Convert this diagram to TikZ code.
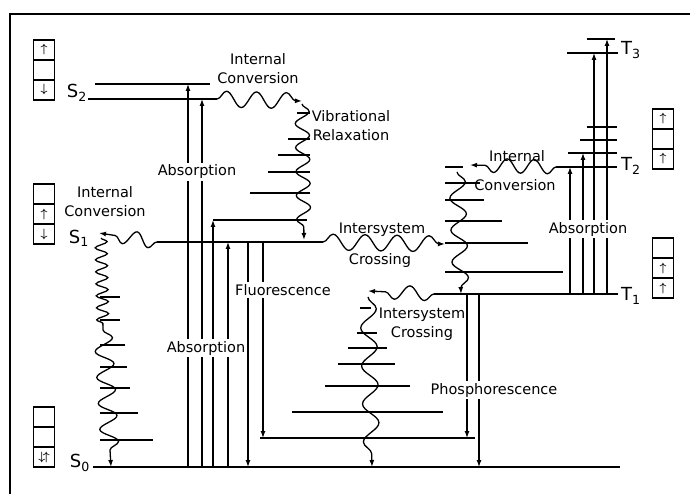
\documentclass[tikz,border=0pt]{standalone}
\usepackage{fontspec}
\setmainfont{DejaVu Sans}
\usetikzlibrary{arrows.meta, decorations.pathmorphing, matrix}

\tikzset{
  level/.style={line width=1.5pt},
  tip/.style={-{Latex[length=7pt,width=5pt]}},
  arrow/.style={line width=1.2pt, tip},
  wavy/.style 2 args={line width=1.3pt, decorate,
    decoration={snake, segment length=#1, amplitude=#2, post length=5pt}},
  lbl/.style={inner sep=1pt, align=center, font=\fontsize{14.5}{19}\selectfont},
  gap/.style={lbl, fill=white, inner sep=2pt},
  state/.style={inner sep=1pt, font=\fontsize{18}{20}\selectfont},
  spinbox/.style={matrix of math nodes, nodes in empty cells, row sep=-1.2pt,
    nodes={draw, line width=1.2pt, minimum width=21pt, minimum height=20pt,
      inner sep=0pt, font=\large\boldmath}}
}

\begin{document}
\begin{tikzpicture}[x=1pt, y=-1pt]
  \useasboundingbox (0,0) rectangle (690,494);
  \draw[line width=1.5pt] (10,500) |- (700,14);

  % energy levels
  \coordinate (S2a) at (0,84);
  \coordinate (S2) at (0,99);
  \coordinate (S1v) at (0,220);
  \coordinate (S1) at (0,242);
  \coordinate (S0v) at (0,438);
  \coordinate (S0) at (0,467);
  \coordinate (T3a) at (0,39);
  \coordinate (T3) at (0,53);
  \coordinate (T2v) at (0,153);
  \coordinate (T2) at (0,167);
  \coordinate (T1) at (0,294);

  \draw[level] (95,0 |- S2a) -- (210,0 |- S2a);
  \draw[level] (88,0 |- S2) -- (217,0 |- S2);
  \draw[level] (213,0 |- S1v) -- (307,0 |- S1v);
  \draw[level] (157,0 |- S1) -- (323,0 |- S1);
  \draw[level] (260,0 |- S0v) -- (475,0 |- S0v);
  \draw[level] (93,0 |- S0) -- (620,0 |- S0);
  \draw[level] (587,0 |- T3a) -- (615,0 |- T3a);
  \draw[level] (567,0 |- T3) -- (618,0 |- T3);
  \draw[level] (587,127) -- (617,127);
  \draw[level] (580,140) -- (617,140);
  \draw[level] (568,0 |- T2v) -- (617,0 |- T2v);
  \draw[level] (556,0 |- T2) -- (617,0 |- T2);
  \draw[level] (434,0 |- T1) -- (618,0 |- T1);

  % vibrational levels
  \foreach \y/\xa in {113/297, 139/288, 155/278, 172/268, 193/250}
    \draw[level] (\xa,\y) -- (310,\y);
  \foreach \y/\xb in {167/463, 183/480, 200/484, 221/502, 243/528, 272/563}
    \draw[level] (445,\y) -- (\xb,\y);
  \foreach \y/\xb in {297/120, 320/120, 345/125, 367/127, 388/130, 413/138, 440/153}
    \draw[level] (100,\y) -- (\xb,\y);
  \foreach \y/\xa/\xb in {308/360/371, 333/357/377, 348/348/387, 364/338/395,
      386/325/410, 412/292/443}
    \draw[level] (\xa,\y) -- (\xb,\y);

  % radiative transitions
  \draw[arrow] (188,0 |- S0) -- (188,0 |- S2a);
  \draw[arrow] (202,0 |- S0) -- (202,0 |- S2);
  \draw[arrow] (213,0 |- S0) -- (213,0 |- S1v);
  \draw[arrow] (228,0 |- S0) -- (228,0 |- S1);
  \draw[arrow] (248,0 |- S1) -- (248,0 |- S0);
  \draw[arrow] (263,0 |- S1) -- (263,0 |- S0v);
  \draw[arrow] (467,0 |- T1) -- (467,0 |- S0v);
  \draw[arrow] (479,0 |- T1) -- (479,0 |- S0);
  \draw[arrow] (570,0 |- T1) -- (570,0 |- T2);
  \draw[arrow] (583,0 |- T1) -- (583,0 |- T2v);
  \draw[arrow] (594,0 |- T1) -- (594,0 |- T3);
  \draw[arrow] (607,0 |- T1) -- (607,0 |- T3a);

  % non-radiative transitions
  \draw[wavy={30}{8}, tip] (217,0 |- S2) -- (302,101);
  \draw[wavy={24}{7}, tip] (302,104) -- (304,240);
  \draw[wavy={26}{7}, tip] (157,0 |- S1) -- (99,233);
  \draw[wavy={12}{6}] (101,238) -- (103,330);
  \draw[wavy={26}{9}, tip] (103,330) -- (111,0 |- S0);
  \draw[wavy={32}{8}, tip] (323,0 |- S1) -- (445,244);
  \draw[wavy={27}{7}, tip] (556,0 |- T2) -- (470,165);
  \draw[wavy={32}{8}, tip] (457,172) -- (461,0 |- T1);
  \draw[wavy={30}{7}, tip] (434,0 |- T1) -- (368,291);
  \draw[wavy={38}{8}, tip] (368,297) -- (372,0 |- S0);

  % labels
  \node[gap] (absS2) at (197,172) {Absorption};
  \node[gap, inner xsep=0.5pt] (absS1) at (206,348) {Absorption};
  \node[gap] (absT) at (588,229) {Absorption};
  \node[gap] (fluo) at (283,290) {Fluorescence};
  \node[gap] (phos) at (494,390) {Phosphorescence};
  \node[lbl] (icS2) at (258,69) {Internal\\Conversion};
  \node[lbl] (icS1) at (105,202) {Internal\\Conversion};
  \node[lbl] (vr) at (351,126) {Vibrational\\Relaxation};
  \node[lbl] (iscA) at (382,230) {Intersystem};
  \node[lbl] (iscB) at (380,260) {Crossing};
  \node[lbl] (iscT1) at (422,324) {Intersystem\\Crossing};
  \node[lbl] (icT2a) at (517,156) {Internal};
  \node[lbl] (icT2b) at (515,185) {Conversion};

  \node[state, anchor=east] (lS2) at (88,93) {S\textsubscript{2}};
  \node[state, anchor=east] (lS1) at (90,238) {S\textsubscript{1}};
  \node[state, anchor=east] (lS0) at (91,463) {S\textsubscript{0}};
  \node[state, anchor=west] (lT3) at (620,50) {T\textsubscript{3}};
  \node[state, anchor=west] (lT2) at (620,166) {T\textsubscript{2}};
  \node[state, anchor=west] (lT1) at (620,296) {T\textsubscript{1}};

  % spin diagrams
  \matrix (boxS2) [spinbox] at (44,70) {\uparrow \\ {} \\ \downarrow \\};
  \matrix (boxS1) [spinbox] at (44,214) {{} \\ \uparrow \\ \downarrow \\};
  \matrix (boxS0) [spinbox] at (44,437) {{} \\ {} \\ \downarrow\!\uparrow \\};
  \matrix (boxT2) [spinbox] at (663,139) {\uparrow \\ {} \\ \uparrow \\};
  \matrix (boxT1) [spinbox] at (663,268) {{} \\ \uparrow \\ \uparrow \\};
\end{tikzpicture}
\end{document}
